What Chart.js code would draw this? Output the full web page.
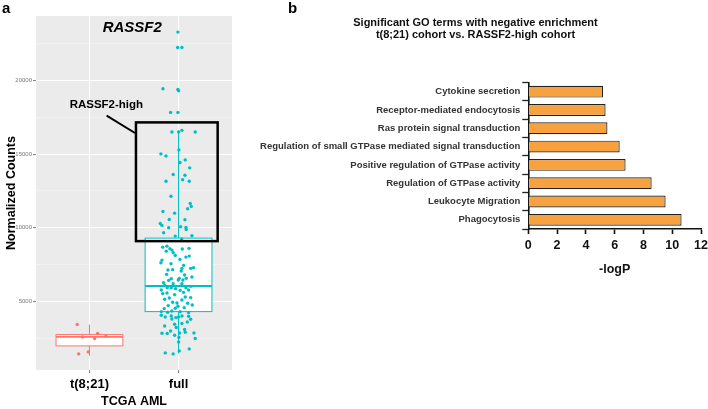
<!DOCTYPE html>
<html>
<head>
<meta charset="utf-8">
<script src="https://cdn.jsdelivr.net/npm/chart.js@4.4.0/dist/chart.umd.min.js"></script>
<style>
  html, body { margin: 0; padding: 0; background: #fff; overflow: hidden; }
  body { width: 708px; height: 409px; position: relative; }
  .panel { position: absolute; top: 0; height: 409px; }
</style>
</head>
<body>
<div class="panel" style="left:0;width:250px"><canvas id="chart-box"></canvas></div>
<div class="panel" style="left:250px;width:518px"><canvas id="chart-go"></canvas></div>
<script>
//========== DATA panel a
var groups = ['t(8;21)', 'full'];
var groupPos = [1, 2];

var t821Jitter = [-0.137, 0.092, -0.076, 0.058, 0.185, -0.121, -0.013];
var t821Counts = [3419, 2809, 2578, 2469, 2646, 1425, 1560];

var fullJitter = [
    -0.007, -0.01, 0.038,
    -0.175, -0.007, 0.001,
    -0.089, -0.007,
    -0.074, 0.001, 0.038, 0.187,
    0.004, -0.198, -0.141, 0.075, 0.016, 0.125, -0.06, 0.072, 0.046, 0.12, -0.141,
    -0.085, 0.131, 0.143, 0.102, -0.175, -0.044, -0.104, 0.072, -0.205, -0.186, 0.024, 0.083, 0.086, -0.111, -0.167, -0.037, 0.15, 0.035,
    -0.13, -0.178, -0.097, -0.074, -0.138, 0.042, 0.117, -0.06,
    -0.037, 0.083, 0.12, 0.016, -0.186, -0.198, -0.085, 0.057, 0.038, -0.119, 0.169, -0.066, 0.136, 0.03,
    -0.134, 0.068, 0.15, -0.082, -0.111, 0.008, 0.087, 0.049, -0.003, -0.168, -0.06, 0.038, -0.156, 0.136,
    -0.127, -0.082, -0.033, 0.083, -0.194, 0.019, 0.113, -0.178, -0.13, 0.057, -0.044, 0.075, 0.136, -0.104,
    -0.156, 0.038, -0.066, -0.018, 0.102, -0.116, -0.007, 0.154, -0.16, -0.037, 0.064, -0.075, 0.019, -0.122,
    0.113, -0.194,
    -0.194, -0.149, -0.082, -0.029, 0.001, 0.038, 0.113, 0.136, -0.075, 0.098, 0.038, -0.044, -0.156, 0.068,
    -0.026, -0.089, -0.186, -0.127, 0.012, 0.075, 0.173, -0.044, 0.187, 0.004, 0.001, -0.149, -0.06, 0.008, 0.12
];
var fullCounts = [
    23297, 22250, 22250,
    19450, 19400, 19310,
    17840, 17840,
    16510, 16510, 16620, 16510,
    15290, 15020, 14880, 14610, 14430, 14070, 13620, 13570, 13260, 13160, 13160,
    12140, 11650, 11450, 11290, 11100, 10990, 10560, 10540, 10290, 10160, 10070, 10020, 9880, 10000, 9660, 9430, 9460, 9230,
    8750, 8680, 8580, 8480, 8410, 8550, 8600, 8300,
    8120, 8005, 8073, 7849, 7802, 7625, 7557, 7442, 7239, 7123, 7286, 7150, 7239, 7055,
    6831, 6784, 6648, 6540, 6424, 6560, 6560, 6445, 6445, 6268, 6201, 6201, 6085, 6017,
    5929, 5929, 5861, 5929, 5766, 5746, 5766, 5522, 5563, 5610, 5454, 5292, 5251, 5224,
    5135, 5088, 4932, 4884, 4864, 4708, 4661, 4749, 4505, 4525, 4572, 4342, 4301, 4254,
    4233, 4301,
    4050, 3935, 4003, 3894, 3935, 4003, 3982, 3779, 3799, 3596, 3487, 3439, 3324, 3080,
    3216, 2985, 2829, 2809, 2849, 2897, 2849, 2693, 2469, 2537, 2239, 1492, 1425, 1628, 1764
];

var boxLow = [1300, 1450];
var boxQ1 = [1970, 4300];
var boxMedian = [2580, 6040];
var boxQ3 = [2740, 9295];
var boxHigh = [3420, 16600];
var groupColors = ['#F8766D', '#00BFC4'];

var yTicksA = [2500, 5000, 7500, 10000, 12500, 15000, 17500, 20000, 22500];

//========== DATA panel b
var goTerms = [
    'Cytokine secretion',
    'Receptor-mediated endocytosis',
    'Ras protein signal transduction',
    'Regulation of small GTPase mediated signal transduction',
    'Positive regulation of GTPase activity',
    'Regulation of GTPase activity',
    'Leukocyte Migration',
    'Phagocytosis'
];
var negLogP = [5.2, 5.37, 5.5, 6.35, 6.76, 8.57, 9.54, 10.65];


//========== PANEL A (box + jitter)
function toPoints(center, jit, vals) {
    return vals.map(function (v, i) { return { x: center + jit[i], y: v }; });
}

var boxPlugin = {
    id: 'boxPlugin',
    beforeDraw: function (chart) {
        var a = chart.chartArea, ctx = chart.ctx;
        ctx.save();
        ctx.fillStyle = '#EBEBEB';
        ctx.fillRect(a.left, a.top, a.right - a.left, a.bottom - a.top);
        ctx.restore();
    },
    beforeDatasetsDraw: function (chart) {
        var ctx = chart.ctx, xs = chart.scales.x, ys = chart.scales.y;
        ctx.save();
        for (var i = 0; i < groups.length; i++) {
            var cx = xs.getPixelForValue(groupPos[i]);
            var half = xs.getPixelForValue(groupPos[i] + 0.375) - cx;
            var yLo = ys.getPixelForValue(boxLow[i]),
                yQ1 = ys.getPixelForValue(boxQ1[i]),
                yMed = ys.getPixelForValue(boxMedian[i]),
                yQ3 = ys.getPixelForValue(boxQ3[i]),
                yHi = ys.getPixelForValue(boxHigh[i]);
            ctx.strokeStyle = groupColors[i];
            ctx.lineWidth = 1;
            ctx.beginPath();
            ctx.moveTo(cx, yHi); ctx.lineTo(cx, yQ3);
            ctx.moveTo(cx, yQ1); ctx.lineTo(cx, yLo);
            ctx.stroke();
            ctx.fillStyle = '#fff';
            ctx.fillRect(cx - half, yQ3, half * 2, yQ1 - yQ3);
            ctx.strokeRect(cx - half, yQ3, half * 2, yQ1 - yQ3);
            ctx.lineWidth = 1.8;
            ctx.beginPath();
            ctx.moveTo(cx - half, yMed); ctx.lineTo(cx + half, yMed);
            ctx.stroke();
        }
        ctx.restore();
    },
    afterDatasetsDraw: function (chart) {
        var ctx = chart.ctx, xs = chart.scales.x, ys = chart.scales.y;
        ctx.save();
        // gene name
        ctx.fillStyle = '#000';
        ctx.font = 'italic bold 15px "Liberation Sans", Arial, sans-serif';
        ctx.textAlign = 'center';
        ctx.textBaseline = 'middle';
        ctx.fillText('RASSF2', xs.getPixelForValue(1.48), ys.getPixelForValue(23600));

        // RASSF2-high annotation
        var x0 = xs.getPixelForValue(1.522), x1 = xs.getPixelForValue(2.439),
            y0 = ys.getPixelForValue(17160), y1 = ys.getPixelForValue(9090);
        ctx.strokeStyle = '#000';
        ctx.lineWidth = 2.5;
        ctx.strokeRect(x0, y0, x1 - x0, y1 - y0);
        ctx.lineWidth = 2;
        ctx.beginPath();
        ctx.moveTo(xs.getPixelForValue(1.193), ys.getPixelForValue(17620));
        ctx.lineTo(xs.getPixelForValue(1.511), ys.getPixelForValue(16440));
        ctx.stroke();
        ctx.font = 'bold 11.5px "Liberation Sans", Arial, sans-serif';
        ctx.fillText('RASSF2-high', xs.getPixelForValue(1.19), ys.getPixelForValue(18360));

        // panel letter
        ctx.textAlign = 'left';
        ctx.font = 'bold 15px "Liberation Sans", Arial, sans-serif';
        ctx.fillText('a', 2, 9);
        ctx.restore();
    }
};

new Chart(document.getElementById('chart-box'), {
    type: 'scatter',
    plugins: [boxPlugin],
    data: {
        datasets: [
            {
                label: groups[0],
                data: toPoints(groupPos[0], t821Jitter, t821Counts),
                backgroundColor: groupColors[0],
                borderWidth: 0,
                pointRadius: 1.7
            },
            {
                label: groups[1],
                data: toPoints(groupPos[1], fullJitter, fullCounts),
                backgroundColor: groupColors[1],
                borderWidth: 0,
                pointRadius: 1.7
            }
        ]
    },
    options: {
        responsive: true,
        maintainAspectRatio: false,
        animation: false,
        layout: { padding: { top: 16, left: 0, right: 18, bottom: 0 } },
        plugins: { legend: { display: false }, tooltip: { enabled: false } },
        scales: {
            x: {
                type: 'linear',
                min: 0.4,
                max: 2.6,
                afterBuildTicks: function (s) {
                    s.ticks = groupPos.map(function (v) { return { value: v }; });
                },
                afterFit: function (s) { s.height = 39; },
                ticks: {
                    padding: 4,
                    color: '#000',
                    font: { family: '"Liberation Sans", Arial', size: 13, weight: 'bold' },
                    callback: function (v) { return groups[groupPos.indexOf(v)]; }
                },
                grid: { color: '#fff', lineWidth: 1.1, tickLength: 3, tickColor: '#888' },
                border: { display: false },
                title: {
                    display: true,
                    text: 'TCGA AML',
                    color: '#000',
                    padding: { top: 0, bottom: 0 },
                    font: { family: '"Liberation Sans", Arial', size: 12.5, weight: 'bold' }
                }
            },
            y: {
                min: 331,
                max: 24391,
                afterBuildTicks: function (s) {
                    s.ticks = yTicksA.map(function (v) { return { value: v }; });
                },
                afterFit: function (s) { s.width = 36; },
                ticks: {
                    padding: 1,
                    color: '#777',
                    font: { family: '"Liberation Sans", Arial', size: 6 },
                    callback: function (v) { return v % 5000 === 0 ? v : ''; }
                },
                grid: {
                    color: function (c) { return c.tick && c.tick.value % 5000 === 0 ? '#fff' : 'rgba(255,255,255,0.55)'; },
                    lineWidth: function (c) { return c.tick && c.tick.value % 5000 === 0 ? 1.1 : 0.6; },
                    tickLength: 3,
                    tickColor: function (c) { return c.tick && c.tick.value % 5000 === 0 ? '#888' : 'rgba(0,0,0,0)'; }
                },
                border: { display: false },
                title: {
                    display: true,
                    text: 'Normalized Counts',
                    color: '#000',
                    padding: { top: 4, bottom: 0 },
                    font: { family: '"Liberation Sans", Arial', size: 12.5, weight: 'bold' }
                }
            }
        }
    }
});


//========== PANEL B (GO terms)
var letterPlugin = {
    id: 'letterB',
    afterDraw: function (chart) {
        var ctx = chart.ctx;
        ctx.save();
        ctx.fillStyle = '#000';
        ctx.font = 'bold 15px "Liberation Sans", Arial, sans-serif';
        ctx.textBaseline = 'middle';
        ctx.fillText('b', 38, 9);
        ctx.restore();
    }
};

new Chart(document.getElementById('chart-go'), {
    type: 'bar',
    plugins: [letterPlugin],
    data: {
        labels: goTerms,
        datasets: [{
            data: negLogP,
            backgroundColor: '#F8A13F',
            borderColor: '#222',
            borderWidth: 1.2,
            barPercentage: 0.65,
            categoryPercentage: 1
        }]
    },
    options: {
        indexAxis: 'y',
        responsive: true,
        maintainAspectRatio: false,
        animation: false,
        layout: { padding: { top: 0, left: 0, right: 67, bottom: 132 } },
        plugins: {
            legend: { display: false },
            tooltip: { enabled: false },
            title: {
                display: true,
                text: ['Significant GO terms with negative enrichment', 't(8;21) cohort vs. RASSF2-high cohort'],
                color: '#111',
                padding: { top: 17, bottom: 41.3 },
                font: { family: '"Liberation Sans", Arial', size: 11, weight: 'bold', lineHeight: 1.1 }
            }
        },
        scales: {
            y: {
                afterFit: function (s) { s.width = 278.3; },
                ticks: {
                    padding: 2,
                    color: '#333',
                    font: { family: '"Liberation Sans", Arial', size: 9.5, weight: 'bold' }
                },
                grid: { drawOnChartArea: false, tickLength: 6, tickColor: '#222', tickWidth: 1.3 },
                border: { color: '#111', width: 1.6 }
            },
            x: {
                min: 0,
                max: 12,
                ticks: {
                    stepSize: 2,
                    padding: 4,
                    color: '#111',
                    font: { family: '"Liberation Sans", Arial', size: 12.5, weight: 'bold' }
                },
                grid: { drawOnChartArea: false, tickLength: 5, tickColor: '#111', tickWidth: 1.6 },
                border: { color: '#111', width: 1.6 },
                title: {
                    display: true,
                    text: '-logP',
                    color: '#111',
                    padding: { top: 5, bottom: 0 },
                    font: { family: '"Liberation Sans", Arial', size: 12.5, weight: 'bold' }
                }
            }
        }
    }
});
</script>
</body>
</html>
